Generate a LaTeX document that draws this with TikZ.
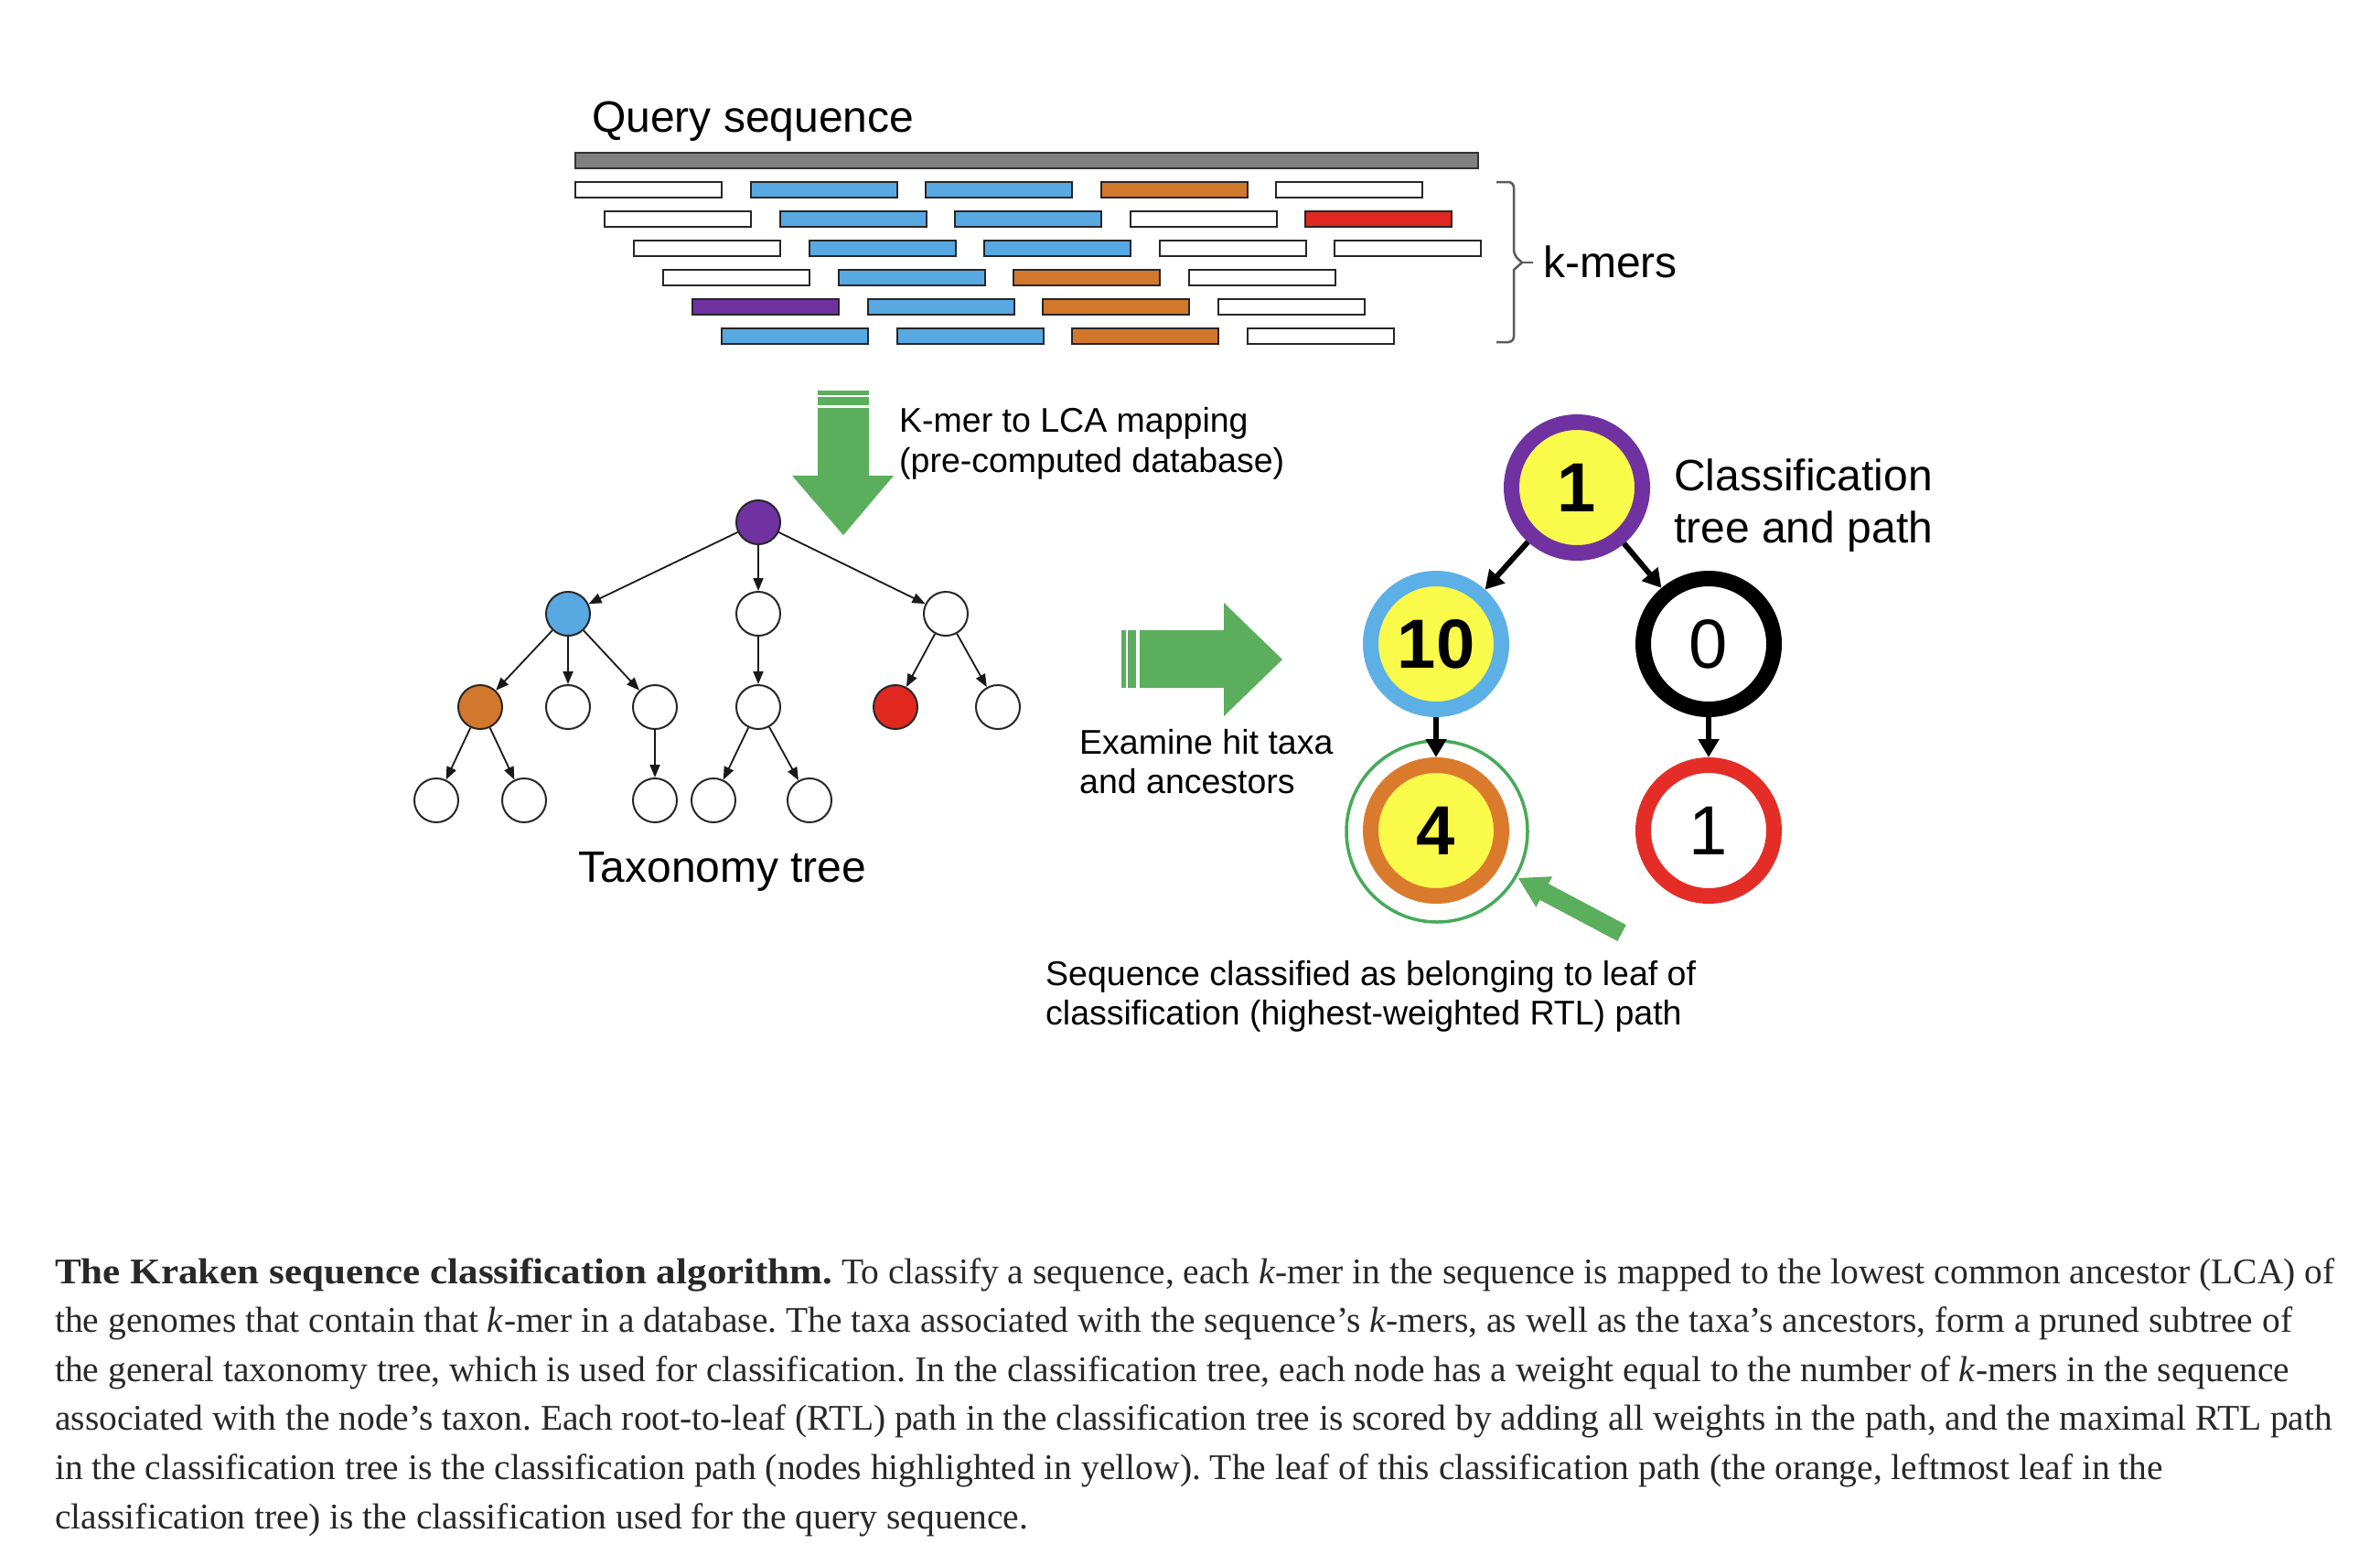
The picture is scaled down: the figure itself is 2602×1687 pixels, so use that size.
\documentclass[tikz,border=0pt]{standalone}
\usepackage{fontspec}
\setmainfont{Liberation Serif}
\newfontfamily\figsans{Liberation Sans}
\usetikzlibrary{arrows.meta}
\definecolor{kw}{RGB}{255,255,255}
\definecolor{kb}{RGB}{88,168,226}
\definecolor{ko}{RGB}{210,120,45}
\definecolor{kr}{RGB}{224,40,32}
\definecolor{kp}{RGB}{112,50,160}
\definecolor{qgray}{RGB}{128,128,128}
\definecolor{cyel}{RGB}{250,250,75}
\definecolor{cblue}{RGB}{92,176,230}
\definecolor{corange}{RGB}{218,122,45}
\definecolor{cred}{RGB}{228,45,38}
\definecolor{arrgreen}{RGB}{90,174,92}
\definecolor{hlgreen}{RGB}{70,170,90}
\definecolor{capgray}{RGB}{40,40,40}
\definecolor{bracegray}{RGB}{90,90,90}
\frenchspacing
\begin{document}
\begin{tikzpicture}[x=1pt,y=-1pt,
  kmer/.style={draw=black!85, line width=2pt, minimum width=160pt, minimum height=17pt, inner sep=0pt, outer sep=0pt},
  tnode/.style={circle, draw=black!85, line width=2pt, minimum size=48pt, inner sep=0pt, fill=white},
  tedge/.style={line width=1.8pt, draw=black!90, -{Triangle[length=14pt,width=11pt]}},
  cnode/.style={circle, line width=17pt, minimum size=143pt, inner sep=0pt, font=\figsans\fontsize{76}{80}\selectfont},
  cedge/.style={line width=6pt, -{Triangle[length=20pt,width=22pt]}},
  lbig/.style={font=\figsans\fontsize{48}{56}\selectfont, inner sep=0pt, anchor=base west},
  lsmall/.style={font=\figsans\fontsize{37.5}{43}\selectfont, inner sep=0pt, anchor=base west},
  capline/.style={font=\fontsize{39.5}{54}\selectfont, text=capgray, inner sep=0pt, anchor=base west},
  garrow/.style={fill=arrgreen, draw=none}
]
\fill[white] (0,0) rectangle (2602,1687);
\useasboundingbox (0,0) rectangle (2602,1687);

% query sequence
\node[lbig] (qs) at (647,144) {Query sequence};
\node[draw=black!80, fill=qgray, line width=2pt, minimum width=987pt, minimum height=17pt, inner sep=0pt] (qbar) at (1122.5,175) {};

% k-mers
\foreach \r/\cols in {0/{w,b,b,o,w},1/{w,b,b,w,r},2/{w,b,b,w,w},3/{w,b,o,w},4/{p,b,o,w},5/{b,b,o,w}}{
  \foreach \c [count=\i from 0] in \cols {
    \node[kmer, fill=k\c] (k\r-\i) at ({709+32*\r+191.5*\i}, {207+32*\r}) {};
  }
}
\draw[bracegray, line width=2.5pt] (1636,199) [rounded corners=6pt] -- (1655,199) -- (1655,279) [sharp corners] -- (1664,287) -- (1655,295) [rounded corners=6pt] -- (1655,374) -- (1636,374);
\draw[bracegray, line width=2.5pt] (1663,287) -- (1676,287);
\node[lbig] (km) at (1687,303) {k-mers};

% down arrow
\fill[garrow] (894,427) rectangle (950,432);
\fill[garrow] (894,434) rectangle (950,443);
\fill[garrow] (894,446) -- (950,446) -- (950,520) -- (977,520) -- (922,585) -- (866,520) -- (894,520) -- cycle;
\node[lsmall] (map1) at (983,472) {K-mer to LCA mapping};
\node[lsmall] (map2) at (983,516) {(pre-computed database)};

% taxonomy tree
\node[tnode, fill=kp] (t0) at (829,571) {};
\node[tnode, fill=kb] (t1) at (621,671) {};
\node[tnode] (t2) at (829,671) {};
\node[tnode] (t3) at (1034,671) {};
\node[tnode, fill=ko] (t4) at (525,773) {};
\node[tnode] (t5) at (621,773) {};
\node[tnode] (t6) at (716,773) {};
\node[tnode] (t7) at (829,773) {};
\node[tnode, fill=kr] (t8) at (979,773) {};
\node[tnode] (t9) at (1091,773) {};
\node[tnode] (t10) at (477,875) {};
\node[tnode] (t11) at (573,875) {};
\node[tnode] (t12) at (716,875) {};
\node[tnode] (t13) at (780,875) {};
\node[tnode] (t14) at (885,875) {};
\foreach \a/\b in {t0/t1,t0/t2,t0/t3,t1/t4,t1/t5,t1/t6,t2/t7,t3/t8,t3/t9,t4/t10,t4/t11,t6/t12,t7/t13,t7/t14}
  \draw[tedge] (\a) -- (\b);
\node[lbig, anchor=base] (tt) at (790,964) {Taxonomy\ tree};

% right arrow
\fill[garrow] (1226,689) rectangle (1231,752);
\fill[garrow] (1233,689) rectangle (1242,752);
\fill[garrow] (1246,689) -- (1338,689) -- (1338,659) -- (1402,721) -- (1338,783) -- (1338,752) -- (1246,752) -- cycle;
\node[lsmall] (ex1) at (1180,824) {Examine hit taxa};
\node[lsmall] (ex2) at (1180,867) {and ancestors};

% classification tree
\node[circle, draw=hlgreen, line width=3.5pt, minimum size=198pt, inner sep=0pt] (hl) at (1571,909) {};
\node[cnode, draw=kp, fill=cyel] (c0) at (1724,533) {\bfseries 1};
\node[cnode, draw=cblue, fill=cyel] (c1) at (1570,704) {\bfseries 10};
\node[cnode, draw=black, fill=white] (c2) at (1868,704) {0};
\node[cnode, draw=corange, fill=cyel] (c3) at (1570,908) {\bfseries 4};
\node[cnode, draw=cred, fill=white] (c4) at (1868,908) {1};
\foreach \a/\b in {c0/c1,c0/c2,c1/c3,c2/c4}
  \draw[cedge] (\a) -- (\b);
\node[lbig] (ct1) at (1830,536) {Classification};
\node[lbig] (ct2) at (1830,593) {tree and path};

% pointer arrow
\begin{scope}[shift={(1660,960)}, rotate=-27.97]
  \fill[garrow] (0,0) -- (32,-19) -- (32,-10) -- (128,-10) -- (128,10) -- (32,10) -- (32,19) -- cycle;
\end{scope}
\node[lsmall] (sq1) at (1143,1077) {Sequence classified as belonging to leaf of};
\node[lsmall] (sq2) at (1143,1120) {classification (highest-weighted RTL) path};

% caption
\node[capline] (cap1) at (60,1403) {\textbf{\addfontfeature{FakeStretch=1.09}The Kraken sequence classification algorithm.} To classify a sequence, each \textit{k}-mer in the sequence is mapped to the lowest common ancestor (LCA) of};
\node[capline] (cap2) at (60,1456.6) {the genomes that contain that \textit{k}-mer in a database. The taxa associated with the sequence’s \textit{k}-mers, as well as the taxa’s ancestors, form a pruned subtree of};
\node[capline] (cap3) at (60,1510.2) {the general taxonomy tree, which is used for classification. In the classification tree, each node has a weight equal to the number of \textit{k}-mers in the sequence};
\node[capline] (cap4) at (60,1563.8) {associated with the node’s taxon. Each root-to-leaf (RTL) path in the classification tree is scored by adding all weights in the path, and the maximal RTL path};
\node[capline] (cap5) at (60,1617.4) {in the classification tree is the classification path (nodes highlighted in yellow). The leaf of this classification path (the orange, leftmost leaf in the};
\node[capline] (cap6) at (60,1671) {classification tree) is the classification used for the query sequence.};
\end{tikzpicture}
\end{document}
